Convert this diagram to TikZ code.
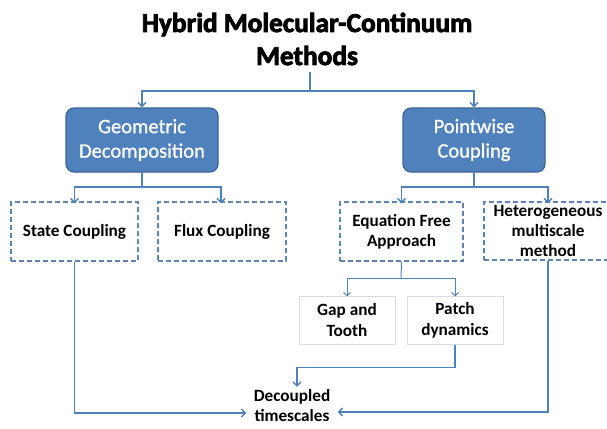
\documentclass[tikz,border=0pt]{standalone}
\usepackage{fontspec}
\setmainfont{Carlito}
\newfontface\titleface{Carlito Bold}[FakeBold=3]
\newfontface\boxface{Carlito}[FakeBold=1]
\usetikzlibrary{arrows.meta,calc}
\definecolor{linkblue}{HTML}{4F81BD}
\definecolor{boxblue}{HTML}{4F81BD}
\definecolor{boxedge}{HTML}{3B6496}
\definecolor{dashedge}{HTML}{5F84B4}
\definecolor{paleedge}{HTML}{D6DCE4}
\tikzset{
  x=1pt, y=-1pt,
  link/.style={draw=linkblue, line width=1.8pt, -{Straight Barb[length=4pt,width=8pt,line width=1.4pt]}},
  thinlink/.style={draw=linkblue, line width=1pt, -{Straight Barb[length=3.5pt,width=7pt,line width=1pt]}},
  plain/.style={draw=linkblue, line width=1.8pt},
  mainbox/.style={draw=boxedge, fill=boxblue, line width=1.2pt, rounded corners=8pt,
    text=white, align=center, inner sep=0pt,
    font=\boxface\fontsize{20.5}{24.5}\selectfont},
  dashbox/.style={draw=dashedge, line width=1.2pt, dash pattern=on 5pt off 3pt,
    align=center, inner sep=0pt, font=\bfseries\fontsize{17.2}{20}\selectfont},
  palebox/.style={draw=paleedge, line width=1pt, align=center, inner sep=0pt,
    minimum width=96pt, minimum height=48pt, font=\bfseries\fontsize{17.2}{21}\selectfont},
}
\begin{document}
\begin{tikzpicture}
\useasboundingbox (0,0) rectangle (607,428);

% title
\node[align=center, font=\titleface\fontsize{27.3}{33}\selectfont, inner sep=0pt]
  (title) at (307,39) {Hybrid Molecular-Continuum\\Methods};

% first level
\node[mainbox, minimum width=152pt, minimum height=64pt] (geo) at (142,140)
  {Geometric\\Decomposition};
\node[mainbox, minimum width=142pt, minimum height=64pt] (pw) at (474,140)
  {Pointwise\\Coupling};

% second level
\node[dashbox, minimum width=127pt, minimum height=59pt] (state) at (74.5,231.5) {State Coupling};
\node[dashbox, minimum width=128pt, minimum height=59pt] (flux) at (222,231.5) {Flux Coupling};
\node[dashbox, minimum width=123pt, minimum height=59pt] (eqf) at (401.5,231.5) {Equation Free\\Approach};
\node[dashbox, minimum width=128pt, minimum height=58pt] (het) at (548,231) {Heterogeneous\\multiscale\\method};

% third level
\node[palebox] (gap) at (347,320) {Gap and\\Tooth};
\node[palebox] (patch) at (455,320) {Patch\\dynamics};

% outcome
\node[align=center, inner sep=0pt, minimum width=91pt, minimum height=50pt,
  font=\bfseries\fontsize{17.2}{20}\selectfont] (dec) at (292,406) {Decoupled\\timescales};

% connectors from the title
\coordinate (tsplit) at (310,91);
\draw[plain] (310,72) -- (tsplit);
\draw[link] (tsplit) -| (geo.north);
\draw[link] (tsplit) -| (pw.north);

% connectors from the blue boxes
\coordinate (gsplit) at (142,187);
\draw[plain] (geo.south) -- (gsplit);
\draw[link] (gsplit) -| ([yshift=-2pt]state.north);
\draw[link] (gsplit) -| ([yshift=-2pt]flux.north -| 221,0);

\coordinate (psplit) at (474,187);
\draw[plain] (pw.south) -- (psplit);
\draw[link] (psplit) -| ([yshift=-2pt]eqf.north);
\draw[link] (psplit) -| ([yshift=-2pt]het.north);

% equation free branch
\coordinate (esplit) at (401,278);
\draw[draw=linkblue, line width=1pt] (eqf.south) -- (esplit);
\draw[thinlink] (esplit) -| ([yshift=-1pt]gap.north);
\draw[thinlink] (esplit) -| ([yshift=-1pt]patch.north);

% paths into the outcome
\draw[link, line width=1.5pt] (patch.south) -- ++(0,23) -| ([xshift=5pt,yshift=-6pt]dec.north);
\draw[link] (state.south) |- ([yshift=-7pt]dec.west);
\draw[link] (het.south) |- ([yshift=-6pt]dec.east);
\end{tikzpicture}
\end{document}
